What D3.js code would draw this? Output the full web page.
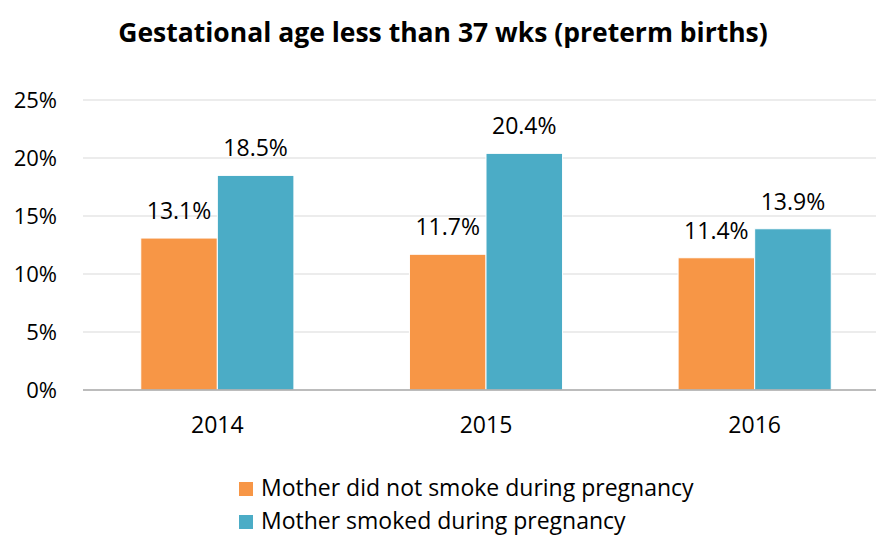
<!DOCTYPE html>
<html>
<head>
<meta charset="utf-8">
<script src="https://cdn.jsdelivr.net/npm/d3@7"></script>
<style>
  body { margin: 0; background: #fff; }
  svg { display: block; font-family: "Open Sans", sans-serif; }
</style>
</head>
<body>
<div id="chart"></div>
<script>
// chart data
const years = ['2014', '2015', '2016'];
const seriesNames = ['Mother did not smoke during pregnancy', 'Mother smoked during pregnancy'];
const notSmoked = [13.1, 11.7, 11.4];
const smoked = [18.5, 20.4, 13.9];
const yTicks = [0, 5, 10, 15, 20, 25];
const colors = ['#F79646', '#4BACC6'];

const width = 876, height = 536;
const margin = { top: 100, right: -13, bottom: 146, left: 83 };

const svg = d3.select('#chart')
    .append('svg')
    .attr('width', width)
    .attr('height', height);

svg.append('text')
    .attr('x', 443)
    .attr('y', 42)
    .attr('text-anchor', 'middle')
    .attr('font-size', '26.5px')
    .attr('font-weight', 'bold')
    .attr('fill', '#000')
    .text('Gestational age less than 37 wks (preterm births)');

const x = d3.scaleBand()
    .domain(years)
    .range([margin.left, width - margin.right])
    .paddingInner(0.43)
    .paddingOuter(0.215);

const x1 = d3.scaleBand()
    .domain([0, 1])
    .range([0, x.bandwidth()]);

const y = d3.scaleLinear()
    .domain([0, 25])
    .range([height - margin.bottom, margin.top]);

// gridlines
svg.append('g')
    .selectAll('line')
    .data(yTicks.filter(d => d > 0))
    .enter()
    .append('line')
    .attr('x1', margin.left)
    .attr('x2', width)
    .attr('y1', d => y(d))
    .attr('y2', d => y(d))
    .attr('stroke', '#e6e6e6')
    .attr('stroke-width', 1.5);

// y axis labels
svg.append('g')
    .selectAll('text')
    .data(yTicks)
    .enter()
    .append('text')
    .attr('x', 57)
    .attr('y', d => y(d) + 8)
    .attr('text-anchor', 'end')
    .attr('font-size', '22px')
    .attr('fill', '#000')
    .text(d => d + '%');

const rows = years.map((yr, i) => ({ year: yr, vals: [notSmoked[i], smoked[i]] }));

const groups = svg.selectAll('.grp')
    .data(rows)
    .enter()
    .append('g')
    .attr('class', 'grp')
    .attr('transform', d => `translate(${x(d.year)},0)`);

groups.selectAll('rect')
    .data(d => d.vals)
    .enter()
    .append('rect')
    .attr('x', (d, i) => x1(i))
    .attr('y', d => y(d))
    .attr('width', x1.bandwidth())
    .attr('height', d => y(0) - y(d))
    .attr('fill', (d, i) => colors[i])
    .attr('stroke', '#fff')
    .attr('stroke-width', 1);

groups.selectAll('.val')
    .data(d => d.vals)
    .enter()
    .append('text')
    .attr('class', 'val')
    .attr('x', (d, i) => x1(i) + x1.bandwidth() / 2)
    .attr('y', d => y(d) - 19)
    .attr('text-anchor', 'middle')
    .attr('font-size', '23px')
    .attr('fill', '#000')
    .text(d => d.toFixed(1) + '%');

// x axis line
svg.append('line')
    .attr('x1', margin.left)
    .attr('x2', width)
    .attr('y1', y(0))
    .attr('y2', y(0))
    .attr('stroke', '#a6a6a6')
    .attr('stroke-width', 1.5);

svg.append('g')
    .selectAll('text')
    .data(years)
    .enter()
    .append('text')
    .attr('x', d => x(d) + x.bandwidth() / 2)
    .attr('y', 433)
    .attr('text-anchor', 'middle')
    .attr('font-size', '23px')
    .attr('fill', '#000')
    .text(d => d);

// legend
const legend = svg.append('g');
seriesNames.forEach((name, i) => {
    const base = 496 + i * 33;
    legend.append('rect')
        .attr('x', 239)
        .attr('y', base - 14)
        .attr('width', 14)
        .attr('height', 14)
        .attr('fill', colors[i]);
    legend.append('text')
        .attr('x', 261)
        .attr('y', base)
        .attr('font-size', '23px')
        .attr('fill', '#000')
        .text(name);
});
</script>
</body>
</html>
